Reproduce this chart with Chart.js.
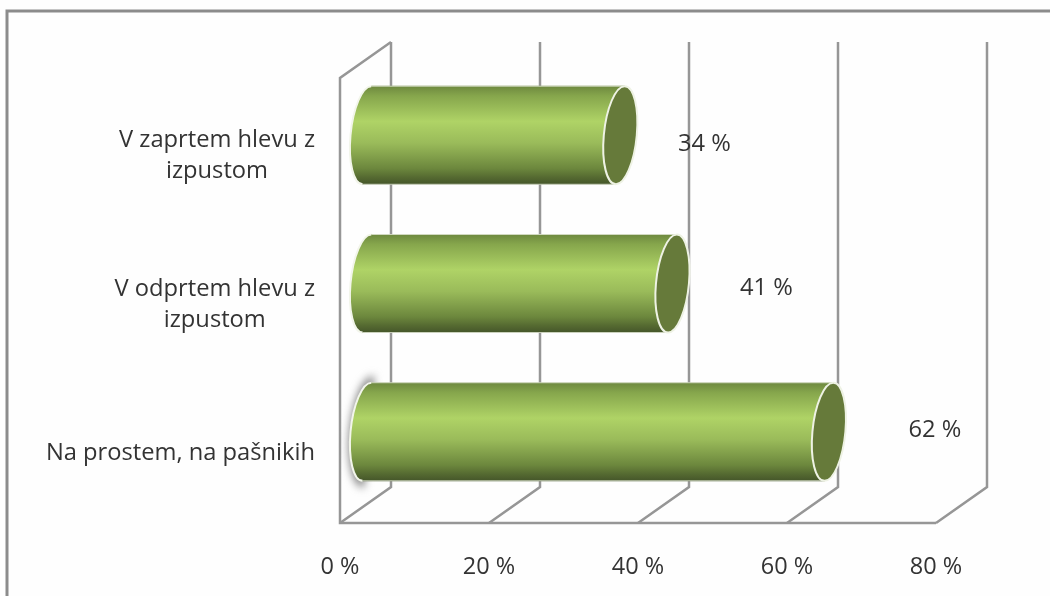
<!DOCTYPE html>
<html>
<head>
<meta charset="utf-8">
<title>Bivanje</title>
<script src="https://cdn.jsdelivr.net/npm/chart.js@4"></script>
<style>
  html, body { margin: 0; padding: 0; background: #fefefe; }
  #wrap { width: 1050px; height: 596px; }
</style>
</head>
<body>
<div id="wrap"><canvas id="chart" width="1050" height="596"></canvas></div>
<script>
const categories = [
  ['V zaprtem hlevu z', 'izpustom'],
  ['V odprtem hlevu z', 'izpustom'],
  ['Na prostem, na pašnikih']
];
const shares = [34, 41, 62];
const axisTicks = [0, 20, 40, 60, 80];

const LINE = '#969696';
const TEXT = '#333333';
const FONT = '"Open Sans", sans-serif';
const DEPTH_X = 51, DEPTH_Y = 36;
const BAR_H = 98, BAR_SHIFT = 27, CAP_RX = 16.5, SHEAR = 0.09;
// hand placement of the value labels next to each bar
const labelNudge = [[111, 10], [121, 6], [133, -1]];

function bodyGradient(ctx, top, bottom) {
  const g = ctx.createLinearGradient(0, top, 0, bottom);
  g.addColorStop(0, '#6e893f');
  g.addColorStop(0.1, '#86a64c');
  g.addColorStop(0.36, '#afd366');
  g.addColorStop(0.58, '#9abb5a');
  g.addColorStop(0.84, '#6c873d');
  g.addColorStop(0.93, '#556a31');
  g.addColorStop(1, '#45562a');
  return g;
}

const cylinderPlugin = {
  id: 'cylinder',
  beforeDatasetsDraw(chart) {
    // frame, side wall, floor and back grid
    const { ctx, chartArea: a, scales: { x } } = chart;
    const top = a.top + 18, floor = a.bottom + 18;
    ctx.save();
    ctx.strokeStyle = '#8c8c8c';
    ctx.lineWidth = 3;
    ctx.beginPath();
    ctx.moveTo(7, 596);
    ctx.lineTo(7, 11);
    ctx.lineTo(1050, 11);
    ctx.stroke();
    ctx.strokeStyle = LINE;
    ctx.lineWidth = 2.5;
    axisTicks.forEach((t) => {
      const px = x.getPixelForValue(t);
      ctx.beginPath();
      ctx.moveTo(px + DEPTH_X, floor - DEPTH_Y - 445);
      ctx.lineTo(px + DEPTH_X, floor - DEPTH_Y);
      ctx.lineTo(px, floor);
      ctx.stroke();
    });
    const left = x.getPixelForValue(0), right = x.getPixelForValue(80);
    ctx.beginPath();
    ctx.moveTo(left + DEPTH_X, floor - DEPTH_Y - 445);
    ctx.lineTo(left, top);
    ctx.lineTo(left, floor);
    ctx.lineTo(right, floor);
    ctx.stroke();
    ctx.restore();
  },
  beforeDatasetDraw(chart, args) {
    // each bar gets sheared and capped with two ellipses
    const { ctx } = chart;
    args.meta.data.forEach((bar, i) => {
      const cy = bar.y;
      const x0 = bar.base, x1 = bar.x;
      const edgeTop = cy - BAR_H / 2, edgeBottom = cy + BAR_H / 2;
      ctx.save();
      ctx.translate(BAR_SHIFT, 1);
      ctx.transform(1, 0, -SHEAR, 1, SHEAR * cy, 0);

      if (i === 2) {
        // soft grey halo behind the longest bar's near end
        ctx.save();
        ctx.filter = 'blur(4px)';
        ctx.fillStyle = '#7d7d7d';
        ctx.beginPath();
        ctx.ellipse(x0 + 2, cy, CAP_RX + 3, BAR_H / 2 + 7, 0, Math.PI / 2, Math.PI * 1.5);
        ctx.fill();
        ctx.restore();
      }

      ctx.fillStyle = bodyGradient(ctx, edgeTop, edgeBottom);
      ctx.beginPath();
      ctx.ellipse(x0, cy, CAP_RX, BAR_H / 2, 0, 0, Math.PI * 2);
      ctx.fill();

      bar.draw(ctx);

      ctx.strokeStyle = '#f2f5ea';
      ctx.lineWidth = 2;
      ctx.beginPath();
      ctx.ellipse(x0, cy, CAP_RX, BAR_H / 2, 0, Math.PI / 2, Math.PI * 1.5);
      ctx.stroke();

      // thin pale rim along the long edges
      ctx.strokeStyle = 'rgba(225,230,212,0.8)';
      ctx.lineWidth = 1;
      ctx.beginPath();
      ctx.moveTo(x0, edgeTop);
      ctx.lineTo(x1, edgeTop);
      ctx.moveTo(x0, edgeBottom);
      ctx.lineTo(x1, edgeBottom);
      ctx.stroke();

      ctx.strokeStyle = '#eef2e4';
      ctx.lineWidth = 2;
      ctx.fillStyle = '#667a3a';
      ctx.beginPath();
      ctx.ellipse(x1, cy, CAP_RX, BAR_H / 2, 0, 0, Math.PI * 2);
      ctx.fill();
      ctx.stroke();
      ctx.restore();
    });
    return false;
  },
  afterDatasetsDraw(chart) {
    const { ctx, scales: { x, y } } = chart;
    ctx.save();
    ctx.fillStyle = TEXT;
    ctx.font = '23.7px ' + FONT;
    ctx.textBaseline = 'middle';

    // category names, centred as a block and right-flush on the widest line
    const axisEdge = 315;
    categories.forEach((lines, i) => {
      const widest = Math.max(...lines.map(l => ctx.measureText(l).width));
      const cx = axisEdge - widest / 2;
      const mid = y.getPixelForTick(i) + 22;
      ctx.textAlign = 'center';
      lines.forEach((l, j) => {
        ctx.fillText(l, cx, mid + (j - (lines.length - 1) / 2) * 31);
      });
    });

    ctx.textAlign = 'center';
    shares.forEach((v, i) => {
      ctx.fillText(v + ' %', x.getPixelForValue(v) + labelNudge[i][0], y.getPixelForTick(i) + labelNudge[i][1]);
    });
    ctx.restore();
  }
};

new Chart(document.getElementById('chart'), {
  type: 'bar',
  data: {
    labels: categories,
    datasets: [{
      data: shares,
      barThickness: BAR_H,
      backgroundColor: (c) => {
        const cy = c.chart.scales.y.getPixelForTick(c.dataIndex);
        return bodyGradient(c.chart.ctx, cy - BAR_H / 2, cy + BAR_H / 2);
      },
      borderWidth: 0
    }]
  },
  options: {
    indexAxis: 'y',
    responsive: false,
    animation: false,
    layout: { padding: { top: 60, right: 114, left: 0, bottom: 0 } },
    plugins: { legend: { display: false }, tooltip: { enabled: false } },
    scales: {
      x: {
        min: 0,
        max: 80,
        afterBuildTicks: (s) => { s.ticks = axisTicks.map(v => ({ value: v })); },
        afterFit: (s) => { s.height = 91; },
        grid: { display: false },
        border: { display: false },
        ticks: {
          padding: 40,
          color: TEXT,
          maxRotation: 0,
          font: { family: FONT, size: 23.5 },
          callback: (v) => v + ' %'
        }
      },
      y: {
        afterFit: (s) => { s.width = 340; },
        grid: { display: false },
        border: { display: false },
        ticks: { display: false }
      }
    }
  },
  plugins: [cylinderPlugin]
});
</script>
</body>
</html>
